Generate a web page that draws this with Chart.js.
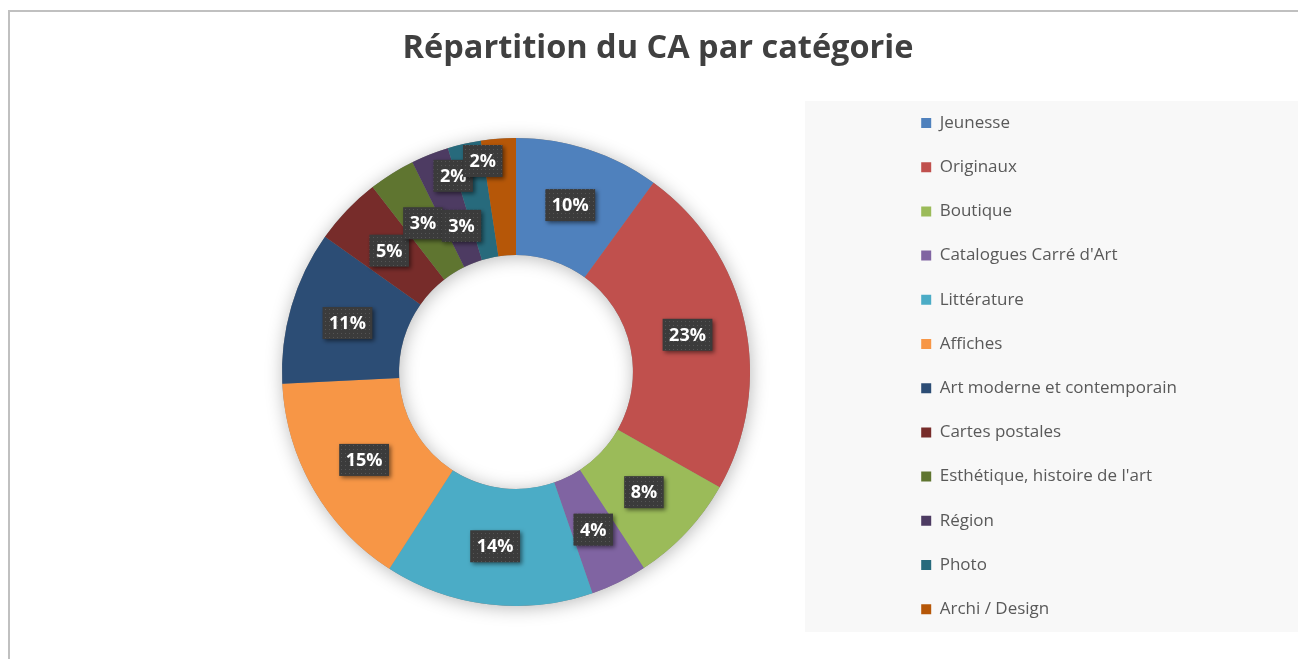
<!DOCTYPE html>
<html lang="fr">
<head>
<meta charset="utf-8">
<title>Répartition du CA par catégorie</title>
<script src="https://cdn.jsdelivr.net/npm/chart.js@4.4.1/dist/chart.umd.min.js"></script>
<style>
  html, body { margin: 0; padding: 0; background: #fff; overflow: hidden; }
  #frame { position: absolute; left: 8px; top: 10px; width: 1300px; height: 660px;
           border-left: 2px solid #c0c0c0; border-top: 2px solid #c0c0c0; }
  #wrap { position: absolute; left: 0; top: 0; width: 1298px; height: 659px; }
</style>
</head>
<body>
<div id="frame"></div>
<div id="wrap"><canvas id="chart" width="1298" height="659"></canvas></div>
<script>
  // donnees du graphique
  const categories = [
    "Jeunesse", "Originaux", "Boutique", "Catalogues Carré d'Art", "Littérature",
    "Affiches", "Art moderne et contemporain", "Cartes postales",
    "Esthétique, histoire de l'art", "Région", "Photo", "Archi / Design"
  ];
  const shares = [10.0, 23.2, 7.6, 3.9, 14.4, 15.1, 10.6, 4.7, 3.2, 2.6, 2.3, 2.4];
  const sliceColors = [
    "#4F81BD", "#C0504D", "#9BBB59", "#8064A2", "#4BACC6", "#F79646",
    "#2C4D75", "#772C2A", "#5F7530", "#4D3B62", "#276A7C", "#B65708"
  ];

  // petits decalages des etiquettes serrees (comme dans Excel)
  const labelNudge = { 9: [10, 17], 10: [-24, -25], 11: [-20, -36] };

  Chart.defaults.font.family = "'Open Sans', sans-serif";

  // motif pointille des etiquettes
  const tile = document.createElement("canvas");
  tile.width = 4; tile.height = 4;
  const tctx = tile.getContext("2d");
  tctx.fillStyle = "#3b3b3b";
  tctx.fillRect(0, 0, 4, 4);
  tctx.fillStyle = "#555555";
  tctx.fillRect(1, 1, 1, 1);

  const ctx = document.getElementById("chart").getContext("2d");
  const boxPattern = ctx.createPattern(tile, "repeat");

  // fond gris de la legende
  const legendPanel = {
    id: "legendPanel",
    beforeDraw(chart) {
      const c = chart.ctx;
      c.save();
      c.fillStyle = "#f8f8f8";
      c.fillRect(805, 101, 493, 531);
      c.restore();
    }
  };

  // ombre douce autour de l'anneau
  const ringShadow = {
    id: "ringShadow",
    beforeDatasetsDraw(chart) {
      const arc = chart.getDatasetMeta(0).data[0];
      if (!arc) return;
      const p = arc.getProps(["x", "y", "outerRadius", "innerRadius"], true);
      const c = chart.ctx;
      c.save();
      c.shadowColor = "rgba(0,0,0,0.28)";
      c.shadowBlur = 18;
      c.shadowOffsetX = 1;
      c.shadowOffsetY = 2;
      c.fillStyle = "#888";
      c.beginPath();
      c.arc(p.x, p.y, p.outerRadius, 0, Math.PI * 2);
      c.arc(p.x, p.y, p.innerRadius, 0, Math.PI * 2, true);
      c.fill();
      c.restore();
    }
  };

  // etiquettes de pourcentage
  const pctLabels = {
    id: "pctLabels",
    afterDatasetsDraw(chart) {
      const c = chart.ctx;
      const values = chart.data.datasets[0].data;
      const total = values.reduce((a, b) => a + b, 0);
      c.save();
      c.font = "bold 18px 'Open Sans', sans-serif";
      c.textAlign = "center";
      c.textBaseline = "middle";
      chart.getDatasetMeta(0).data.forEach((arc, i) => {
        const p = arc.getProps(["x", "y", "startAngle", "endAngle", "innerRadius", "outerRadius"], true);
        const a = (p.startAngle + p.endAngle) / 2;
        const r = (p.innerRadius + p.outerRadius) / 2;
        const n = labelNudge[i] || [0, 0];
        const cx = p.x + Math.cos(a) * r + n[0];
        const cy = p.y + Math.sin(a) * r + n[1];
        const text = Math.round(values[i] / total * 100) + "%";
        const w = c.measureText(text).width + 13;
        const h = 32;
        c.shadowColor = "rgba(0,0,0,0.5)";
        c.shadowBlur = 4;
        c.shadowOffsetX = 2;
        c.shadowOffsetY = 2;
        c.fillStyle = boxPattern;
        c.fillRect(cx - w / 2, cy - h / 2, w, h);
        c.shadowColor = "transparent";
        c.fillStyle = "#fff";
        c.fillText(text, cx, cy + 1);
      });
      c.restore();
    }
  };

  new Chart(ctx, {
    type: "doughnut",
    data: {
      labels: categories,
      datasets: [
        {
          data: shares,
          backgroundColor: sliceColors,
          borderWidth: 0,
          hoverOffset: 0,
        },
      ],
    },
    options: {
      responsive: false,
      animation: false,
      events: [],
      radius: 234,
      cutout: "50%",
      layout: { padding: { top: 10, left: 138, right: 120, bottom: 2.3 } },
      plugins: {
        title: {
          display: true,
          text: "Répartition du CA par catégorie",
          color: "#404040",
          font: { size: 32.5, weight: "bold" },
          padding: { top: 19.5, bottom: 18.8 },
        },
        legend: {
          position: "right",
          align: "start",
          fullSize: false,
          maxWidth: 284,
          labels: {
            boxWidth: 10,
            boxHeight: 10,
            padding: 27.2,
            color: "#595959",
            font: { size: 17 },
          },
        },
        tooltip: { enabled: false },
      },
    },
    plugins: [legendPanel, ringShadow, pctLabels],
  });
</script>
</body>
</html>
